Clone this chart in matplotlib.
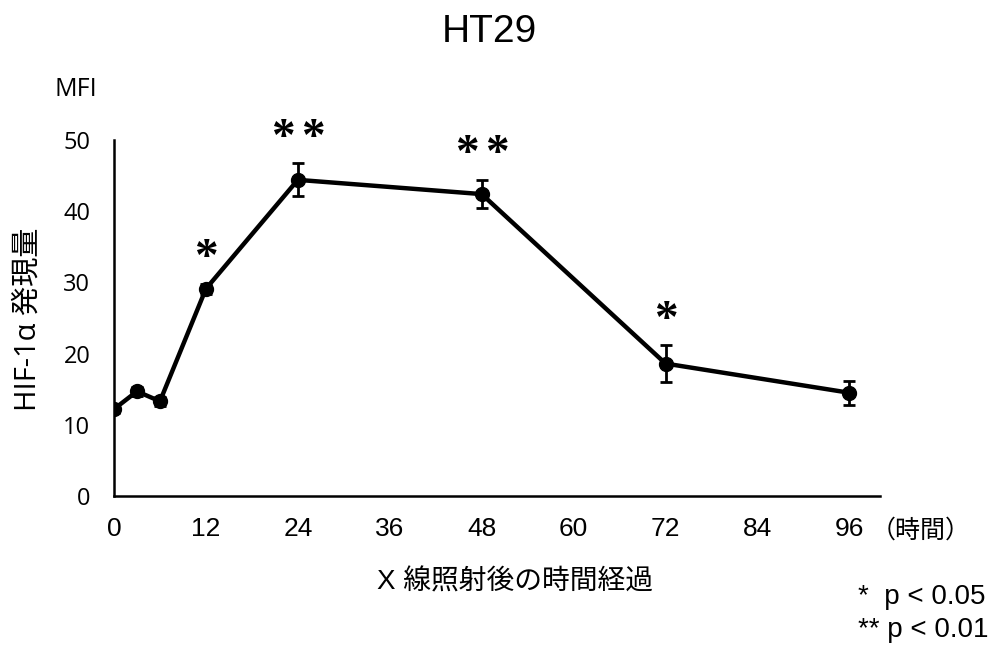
import matplotlib
matplotlib.use("Agg")
import matplotlib.pyplot as plt

plt.rcParams['font.family'] = ['Liberation Sans', 'Noto Sans CJK JP', 'DejaVu Sans']

hours = [0, 3, 6, 12, 24, 48, 72, 96]
mfi = [12.2, 14.7, 13.3, 29.1, 44.4, 42.4, 18.6, 14.5]
err = [0.5, 0.6, 0.6, 0.7, 2.3, 2.0, 2.6, 1.7]
x_ticks = [0, 12, 24, 36, 48, 60, 72, 84, 96]
y_ticks = [0, 10, 20, 30, 40, 50]
sig_hours = [12, 24, 48, 72]
sig_marks = ['*', '**', '**', '*']

fig = plt.figure(figsize=(9.93, 6.46), dpi=100)
ax = fig.add_axes([0.1148, 0.2322, 0.7714, 0.5511])

ax.errorbar(hours, mfi, yerr=err, color='black', lw=3.2, marker='o', ms=10,
            elinewidth=2, capsize=4.5, capthick=2, zorder=3)

ax.set_xlim(0, 100)
ax.set_ylim(0, 50)
ax.set_xticks(x_ticks)
ax.set_yticks(y_ticks)
ax.tick_params(axis='both', length=0)
ax.tick_params(axis='y', pad=17, labelsize=17)
ax.tick_params(axis='x', pad=15, labelsize=19)
for lbl in ax.get_yticklabels():
    lbl.set_family(['Open Sans', 'DejaVu Sans'])
for s in ['top', 'right']:
    ax.spines[s].set_visible(False)
for s in ['left', 'bottom']:
    ax.spines[s].set_linewidth(1.8)

# significance stars above the error bars, spread apart when doubled
star_gap = 22  # points between neighbouring stars
for h, m in zip(sig_hours, sig_marks):
    i = hours.index(h)
    n = len(m)
    for k in range(n):
        dx = (k - (n - 1) / 2) * star_gap
        ax.annotate('*', (h, mfi[i] + err[i] + 5.0), xytext=(dx, -16),
                    textcoords='offset points', ha='center', va='baseline',
                    fontsize=34, fontweight='bold', family=['Liberation Serif'],
                    annotation_clip=False)

fig.text(0.493, 0.950, 'HT29', ha='center', va='center', fontsize=28)
fig.text(0.076, 0.862, 'MFI', ha='center', va='center', fontsize=18,
         family=['Open Sans', 'DejaVu Sans'])
fig.text(0.028, 0.505, 'HIF-1α 発現量', ha='center', va='center', rotation=90,
         fontsize=21, family=['Open Sans', 'Noto Sans CJK JP'])
fig.text(0.519, 0.099, 'X 線照射後の時間経過', ha='center', va='center', fontsize=20,
         family=['Liberation Sans', 'Noto Sans CJK JP'])
fig.text(0.877, 0.179, '（時間）', ha='left', va='center', fontsize=18,
         family=['Noto Sans CJK JP'])
fig.text(0.864, 0.076, '*  p < 0.05', ha='left', va='center', fontsize=20)
fig.text(0.864, 0.025, '** p < 0.01', ha='left', va='center', fontsize=20)

fig.savefig('out.png', dpi=100)
